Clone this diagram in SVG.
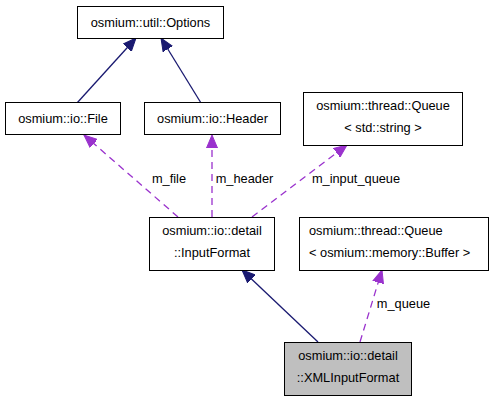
<svg xmlns="http://www.w3.org/2000/svg" width="493" height="403" viewBox="0 0 493 403">
<style>
.box{fill:#fff;stroke:#000;stroke-width:1}
.hl{fill:#bfbfbf}
text{font-family:"Liberation Sans",Arial,sans-serif;font-size:12.8px;fill:#000}
.c{text-anchor:middle}
.inh{fill:none;stroke:#191970;stroke-width:1.3}
.use{fill:none;stroke:#9a32cd;stroke-width:1.3;stroke-dasharray:7,5}
</style>
<defs>
<marker id="an" markerUnits="userSpaceOnUse" markerWidth="14" markerHeight="12" refX="13" refY="6" orient="auto">
<path d="M0,0.5 L13,6 L0,11.5 z" fill="#191970" stroke="#191970" stroke-width="1"/>
</marker>
<marker id="ap" markerUnits="userSpaceOnUse" markerWidth="14" markerHeight="12" refX="13" refY="6" orient="auto">
<path d="M0,0.5 L13,6 L0,11.5 z" fill="#9a32cd" stroke="#9a32cd" stroke-width="1" stroke-dasharray="none"/>
</marker>
</defs>
<g id="connectors">
<line class="inh" x1="77" y1="103" x2="136" y2="38" marker-end="url(#an)"/>
<line class="inh" x1="201" y1="103" x2="161" y2="38" marker-end="url(#an)"/>
<line class="use" x1="178" y1="217" x2="84" y2="135" marker-end="url(#ap)"/>
<line class="use" x1="212" y1="217" x2="212" y2="135" marker-end="url(#ap)"/>
<line class="use" x1="252" y1="217" x2="347" y2="145" marker-end="url(#ap)"/>
<line class="inh" x1="318" y1="342" x2="242" y2="270" marker-end="url(#an)"/>
<line class="use" x1="360" y1="342" x2="382" y2="270" marker-end="url(#ap)"/>
<text x="169" y="183" class="c">m_file</text>
<text x="244.5" y="183" class="c">m_header</text>
<text x="356" y="183" class="c">m_input_queue</text>
<text x="403.5" y="308" class="c">m_queue</text>
</g>
<g id="node-options">
<rect class="box" x="77.5" y="6.5" width="146" height="32"/>
<text x="150.5" y="26.5" class="c">osmium::util::Options</text>
</g>
<g id="node-file">
<rect class="box" x="5.5" y="102.5" width="115" height="32"/>
<text x="63" y="122.5" class="c">osmium::io::File</text>
</g>
<g id="node-header">
<rect class="box" x="144.5" y="102.5" width="136" height="32"/>
<text x="212.5" y="122.5" class="c">osmium::io::Header</text>
</g>
<g id="node-queue-string">
<rect class="box" x="303.5" y="92.5" width="159" height="53"/>
<text x="383" y="109.5" class="c">osmium::thread::Queue</text>
<text x="383" y="131.5" class="c">&lt; std::string &gt;</text>
</g>
<g id="node-inputformat">
<rect class="box" x="149.5" y="217.5" width="125" height="53"/>
<text x="212" y="234.5" class="c">osmium::io::detail</text>
<text x="212" y="256.5" class="c">::InputFormat</text>
</g>
<g id="node-queue-buffer">
<rect class="box" x="299.5" y="217.5" width="189" height="53"/>
<text x="309" y="235">osmium::thread::Queue</text>
<text x="309" y="256.5">&lt; osmium::memory::Buffer &gt;</text>
</g>
<g id="node-xmlinputformat">
<rect class="box hl" x="284.5" y="342.5" width="127" height="53"/>
<text x="348" y="359.5" class="c">osmium::io::detail</text>
<text x="348" y="381.5" class="c">::XMLInputFormat</text>
</g>
</svg>
